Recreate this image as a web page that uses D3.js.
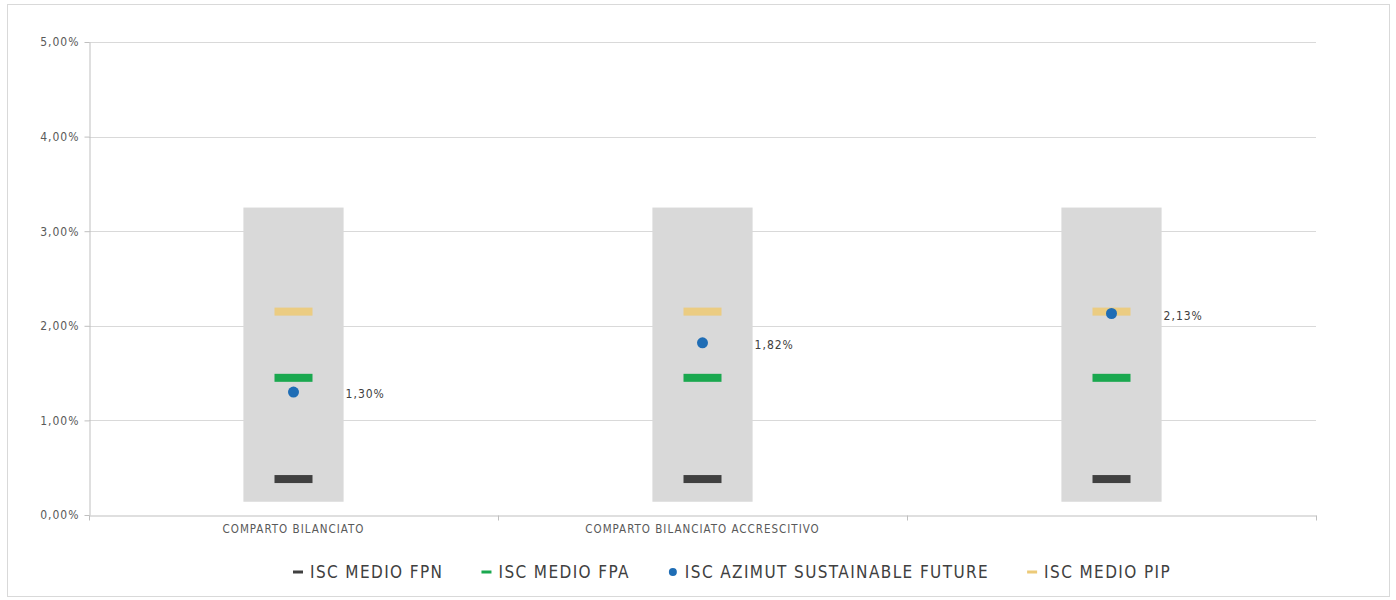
<!DOCTYPE html>
<html>
<head>
<meta charset="utf-8">
<script src="https://cdn.jsdelivr.net/npm/d3@7"></script>
<style>
  html, body { margin: 0; padding: 0; background: #fff; }
  svg { display: block; }
  text { font-family: 'Liberation Sans Narrow', 'DejaVu Sans Condensed', 'Liberation Sans', sans-serif; }
</style>
</head>
<body>
<svg id="chart" width="1396" height="600"></svg>
<script>
// ---- data ----
const categories = ["COMPARTO BILANCIATO", "COMPARTO BILANCIATO ACCRESCITIVO", " "];
const rangeLow  = [0.14, 0.14, 0.14];   // grey band bottom (%)
const rangeHigh = [3.25, 3.25, 3.25];   // grey band top (%)
const iscFPN = [0.38, 0.38, 0.38];
const iscFPA = [1.45, 1.45, 1.45];
const iscAzimut = [1.30, 1.82, 2.13];
const iscPIP = [2.15, 2.15, 2.15];
const yTicks = [0, 1, 2, 3, 4, 5];
const seriesNames = ["ISC MEDIO FPN", "ISC MEDIO FPA", "ISC AZIMUT SUSTAINABLE FUTURE", "ISC MEDIO PIP"];

const svg = d3.select("#chart");
const margin = {left: 89, right: 80, top: 42, bottom: 85};
const W = 1396, H = 600;

// outer border
svg.append("rect").attr("x", 7.5).attr("y", 4.5).attr("width", 1382).attr("height", 592)
  .attr("fill", "#fff").attr("stroke", "#d9d9d9").attr("stroke-width", 1);

const x = d3.scaleBand().domain(categories).range([margin.left, W - margin.right]).padding(0);
const y = d3.scaleLinear().domain([0, 5]).range([H - margin.bottom, margin.top]);

const fmt = v => d3.format(".2f")(v).replace(".", ",") + "%";

// gridlines
svg.append("g").selectAll("line").data(yTicks.filter(t => t > 0)).join("line")
  .attr("x1", margin.left).attr("x2", W - margin.right)
  .attr("y1", d => Math.round(y(d)) + 0.5).attr("y2", d => Math.round(y(d)) + 0.5)
  .attr("stroke", "#d9d9d9").attr("stroke-width", 1);

// y axis
const yAxis = svg.append("g").attr("transform", `translate(${margin.left + 0.5},0)`)
  .call(d3.axisLeft(y).tickValues(yTicks).tickFormat(fmt).tickSize(5).tickSizeOuter(0));
yAxis.select(".domain").attr("stroke", "#bfbfbf");
yAxis.selectAll(".tick line").attr("stroke", "#bfbfbf");
yAxis.selectAll(".tick text").attr("fill", "#595959").attr("font-size", 12)
  .attr("letter-spacing", 1).attr("x", -10);

// grey range bars
const barW = x.bandwidth() * 0.245;
const cx = d => x(d) + x.bandwidth() / 2;
svg.append("g").selectAll("rect").data(categories).join("rect")
  .attr("x", d => cx(d) - barW / 2)
  .attr("width", barW)
  .attr("y", (d, i) => y(rangeHigh[i]))
  .attr("height", (d, i) => y(rangeLow[i]) - y(rangeHigh[i]))
  .attr("fill", "#d9d9d9");

// x axis
const xAxis = svg.append("g").attr("transform", `translate(0,${Math.round(y(0)) + 0.5})`)
  .call(d3.axisBottom(x).tickSize(0).tickSizeOuter(0));
xAxis.select(".domain").attr("stroke", "#bfbfbf");
xAxis.selectAll(".tick text").attr("fill", "#595959").attr("font-size", 11.5)
  .attr("letter-spacing", 1).attr("dy", "1.3em");
// category boundary ticks
const bounds = categories.map(d => x(d)).concat([x(categories[categories.length - 1]) + x.bandwidth()]);
xAxis.append("g").selectAll("line").data(bounds).join("line")
  .attr("x1", d => Math.round(d) + 0.5).attr("x2", d => Math.round(d) + 0.5)
  .attr("y1", 0).attr("y2", 5).attr("stroke", "#bfbfbf");

// dash markers
const dashW = 38, dashH = 8;
function dashes(vals, color, opacity) {
  svg.append("g").selectAll("rect").data(categories).join("rect")
    .attr("x", d => cx(d) - dashW / 2)
    .attr("y", (d, i) => y(vals[i]) - dashH / 2)
    .attr("width", dashW).attr("height", dashH)
    .attr("fill", color).attr("opacity", opacity);
}
dashes(iscFPN, "#404040", 1);
dashes(iscFPA, "#1aa84f", 1);
dashes(iscPIP, "#ecca78", 0.9);

// azimut points
svg.append("g").selectAll("circle").data(categories).join("circle")
  .attr("cx", d => cx(d)).attr("cy", (d, i) => y(iscAzimut[i]))
  .attr("r", 5.5).attr("fill", "#1f6db5");

// data labels
svg.append("g").selectAll("text").data(categories).join("text")
  .attr("x", d => cx(d) + barW / 2 + 2)
  .attr("y", (d, i) => y(iscAzimut[i]) + 2)
  .attr("dy", "0.35em")
  .attr("font-size", 12).attr("letter-spacing", 1).attr("fill", "#404040")
  .text((d, i) => fmt(iscAzimut[i]));

// legend
const legendColors = ["#404040", "#1aa84f", "#1f6db5", "#ecca78"];
const leg = svg.append("g").attr("transform", "translate(292,572)");
let lx = 0;
seriesNames.forEach((name, i) => {
  const g = leg.append("g").attr("transform", `translate(${lx},0)`);
  if (i === 2) {
    g.append("circle").attr("cx", 6).attr("cy", 0).attr("r", 4).attr("fill", legendColors[i]);
  } else {
    g.append("rect").attr("x", 1).attr("y", -1.5).attr("width", 10).attr("height", 3).attr("fill", legendColors[i]);
  }
  const t = g.append("text").attr("x", 18).attr("y", 0).attr("dy", "0.35em")
    .attr("font-size", 17).attr("letter-spacing", 1.4).attr("fill", "#404040").text(name);
  lx += 18 + t.node().getComputedTextLength() + 37;
});
</script>
</body>
</html>
